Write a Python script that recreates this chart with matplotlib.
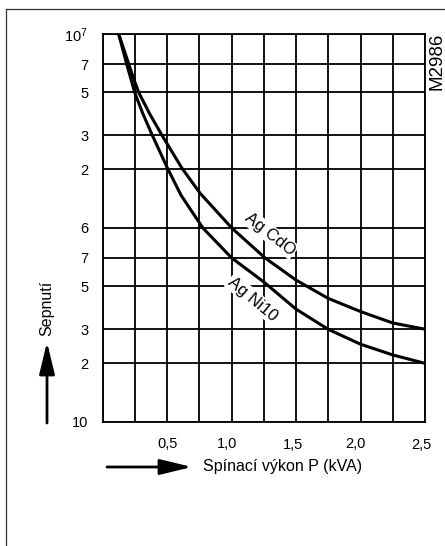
import matplotlib.pyplot as plt
from matplotlib.lines import Line2D
from matplotlib.patches import ArrowStyle
from matplotlib.transforms import ScaledTranslation

plt.rcParams['font.family'] = ['Liberation Sans', 'DejaVu Sans']
plt.rcParams['mathtext.fontset'] = 'custom'
plt.rcParams['mathtext.rm'] = 'Liberation Sans'

# switching power P (kVA) vs. number of switching cycles
power_cdo = [0.124, 0.202, 0.235, 0.279, 0.362, 0.460, 0.613, 0.755, 1.0, 1.259, 1.499, 1.748, 2.0, 2.25, 2.5]
cycles_cdo = [1.0e7, 7e6, 6.02e6, 5e6, 3.9e6, 3e6, 2.04e6, 1.51e6, 1e6, 7e5, 5.38e5, 4.33e5, 3.70e5,
              3.23e5, 3.0e5]

power_ni10 = [0.124, 0.186, 0.214, 0.248, 0.310, 0.385, 0.501, 0.607, 0.776, 1.0, 1.251, 1.499,
              1.748, 2.0, 2.25, 2.5]
cycles_ni10 = [1.0e7, 7e6, 6.02e6, 5e6, 3.9e6, 3e6, 2.04e6, 1.476e6, 1.0e6, 7e5, 5.25e5, 3.81e5,
               3e5, 2.51e5, 2.21e5, 2.0e5]

x_grid = [0.25 * i for i in range(11)]
x_labels = ['', '', '0,5', '', '1,0', '', '1,5', '', '2,0', '', '2,5']
y_grid = [1e5, 2e5, 3e5, 5e5, 7e5, 1e6, 2e6, 3e6, 5e6, 7e6, 1e7]
y_labels = ['10', '2', '3', '5', '7', '6', '2', '3', '5', '7', r'$\mathregular{10^7}$']

# small hand placement shifts of the x labels in the original drawing (pixels)
x_label_shift = {'0,5': (0, 0), '1,0': (-5, 0), '1,5': (-3, -1.5), '2,0': (-5, 0), '2,5': (-4, -1.5)}


def main():
    fig = plt.figure(figsize=(4.45, 5.46), dpi=100)
    ax = fig.add_axes([102.7 / 445, 1 - 421.7 / 546, (425 - 102.7) / 445, (421.7 - 34) / 546])

    ax.set_yscale('log')
    ax.set_xlim(0, 2.5)
    ax.set_ylim(1e5, 1e7)
    ax.minorticks_off()
    ax.set_xticks(x_grid)
    ax.set_xticklabels(x_labels, fontsize=10.5)
    ax.set_yticks(y_grid)
    ax.set_yticklabels(y_labels, fontsize=10.5)
    ax.tick_params(length=0)
    ax.tick_params(axis='y', pad=10.5)
    ax.tick_params(axis='x', pad=11)
    ax.grid(True, color='black', linewidth=1.3)
    for sp in ax.spines.values():
        sp.set_linewidth(1.3)

    for lbl in ax.get_xticklabels():
        dx, dy = x_label_shift.get(lbl.get_text(), (0, 0))
        if dx or dy:
            lbl.set_transform(lbl.get_transform() + ScaledTranslation(dx / 100, dy / 100, fig.dpi_scale_trans))

    ax.plot(power_cdo, cycles_cdo, color='black', linewidth=2.2, zorder=3)
    ax.plot(power_ni10, cycles_ni10, color='black', linewidth=2.2, zorder=3)

    box = dict(facecolor='white', edgecolor='none', pad=1)
    fig.text(270 / 445, 1 - 234 / 546, 'Ag CdO', rotation=-38, ha='center', va='center',
             fontsize=12, bbox=box, zorder=5)
    fig.text(253 / 445, 1 - 299 / 546, 'Ag Ni10', rotation=-40, ha='center', va='center',
             fontsize=12, bbox=box, zorder=5)

    fig.text(437 / 445, 1 - 61 / 546, 'M2986', rotation=90, ha='center', va='center', fontsize=13.5)

    # axis captions with arrows
    arrow = dict(arrowstyle=ArrowStyle('-|>', head_length=1.95, head_width=0.47),
                 mutation_scale=10, color='black', lw=2.0, shrinkA=0, shrinkB=0)
    ax.annotate('', xy=(47, 546 - 342), xytext=(47, 546 - 423),
                xycoords='figure pixels', textcoords='figure pixels', arrowprops=arrow)
    ax.annotate('', xy=(192, 546 - 467), xytext=(107, 546 - 467),
                xycoords='figure pixels', textcoords='figure pixels', arrowprops=arrow)
    fig.text(47 / 445, 1 - 308 / 546, 'Sepnutí', rotation=90, ha='center', va='center', fontsize=11.5)
    fig.text(203 / 445, 1 - 467 / 546, 'Spínací výkon P (kVA)', ha='left', va='center', fontsize=11.5)

    # outer frame (left and top edges)
    fig.add_artist(Line2D([6 / 445, 6 / 445], [0, 1 - 9 / 546], color='#333333', linewidth=0.9))
    fig.add_artist(Line2D([6 / 445, 1], [1 - 9 / 546, 1 - 9 / 546], color='#333333', linewidth=0.9))

    fig.savefig('out.png', dpi=100)


if __name__ == '__main__':
    main()
